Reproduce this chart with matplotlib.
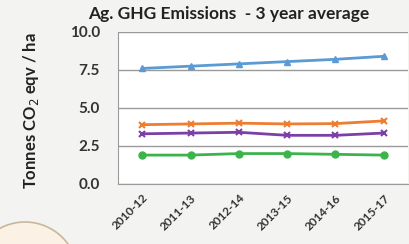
import matplotlib.pyplot as plt
from matplotlib.patches import Circle

periods = ["2010-12", "2011-13", "2012-14", "2013-15", "2014-16", "2015-17"]
blue_vals = [7.6, 7.75, 7.9, 8.05, 8.2, 8.4]
orange_vals = [3.9, 3.95, 4.0, 3.95, 3.97, 4.15]
purple_vals = [3.3, 3.35, 3.4, 3.2, 3.2, 3.35]
green_vals = [1.9, 1.9, 2.0, 2.0, 1.95, 1.9]

plt.rcParams['font.family'] = ['Lato', 'DejaVu Sans']

fig = plt.figure(figsize=(4.1, 2.44), dpi=100, facecolor='#f3f3f1')

# decorative circle in lower-left corner of the screenshot
fig.patches.append(Circle((0.25, -0.31), 0.53, transform=fig.dpi_scale_trans,
                          facecolor='#fbf1e4', edgecolor='#c9b79a', lw=1.2))

ax = fig.add_axes([0.288, 0.246, 0.707, 0.623])
ax.set_facecolor('white')

x = range(len(periods))
ax.plot(x, blue_vals, color='#5b9bd5', marker='^', ms=5, lw=2)
ax.plot(x, orange_vals, color='#ed7d31', marker='x', ms=5, mew=1.5, lw=2)
ax.plot(x, purple_vals, color='#7b3fa8', marker='x', ms=5, mew=1.5, lw=2)
ax.plot(x, green_vals, color='#3cb44b', marker='o', ms=5, lw=2)

ax.set_xlim(-0.5, len(periods) - 0.5)
ax.set_ylim(0, 10)
ax.set_yticks([0, 2.5, 5.0, 7.5, 10.0])
ax.set_yticklabels(['0.0', '2.5', '5.0', '7.5', '10.0'], fontsize=11,
                   fontweight='bold', color='#333333')
ax.set_xticks(list(x))
ax.set_xticklabels(periods, rotation=45, ha='right', rotation_mode='anchor',
                   fontsize=8.5, fontweight='bold', color='#333333')
ax.tick_params(axis='y', length=0, pad=13)
ax.tick_params(axis='x', length=0, pad=6)
ax.grid(axis='y', color='#9a9a9a', lw=1)
ax.set_axisbelow(True)
for s in ['top', 'right']:
    ax.spines[s].set_visible(False)
for s in ['left', 'bottom']:
    ax.spines[s].set_color('#9a9a9a')

fig.text(0.558, 0.943, "Ag. GHG Emissions  - 3 year average", ha='center',
         va='center', fontsize=12.5, fontweight='bold', color='#222222')
fig.text(0.075, 0.545, "Tonnes CO$_2$ eqv / ha", rotation=90, ha='center',
         va='center', fontsize=12, fontweight='bold', color='#222222')

fig.savefig('out.png', dpi=100, facecolor=fig.get_facecolor())
